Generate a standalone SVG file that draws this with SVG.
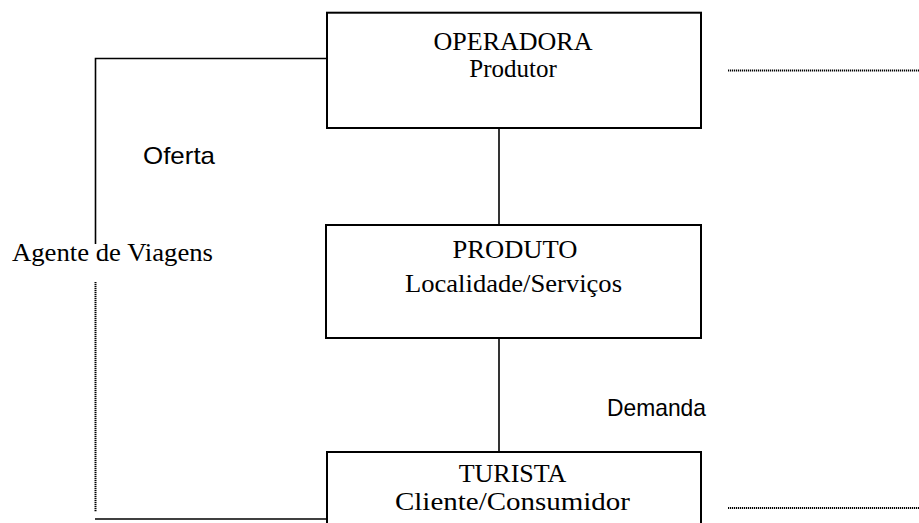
<svg xmlns="http://www.w3.org/2000/svg" width="919" height="523" viewBox="0 0 919 523">
<style>
.box{fill:#fff;stroke:#000;stroke-width:2}
.ln{fill:none;stroke:#000;stroke-width:1.6}
.dash{fill:none;stroke:#000;stroke-width:2;stroke-dasharray:1.2 0.8}
.t{font-family:"Liberation Serif","Times New Roman",serif;font-size:24.5px;fill:#000;text-anchor:middle}
.s{font-family:"Liberation Sans",Arial,sans-serif;font-size:24px;fill:#000}
</style>
<rect width="919" height="523" fill="#fff"/>
<g id="connectors">
<line class="ln" x1="499" y1="128" x2="499" y2="225"/>
<line class="ln" x1="499" y1="338" x2="499" y2="452"/>
<polyline class="ln" points="327,58.5 95.5,58.5 95.5,244"/>
<line class="dash" x1="95.5" y1="282" x2="95.5" y2="512"/>
<line class="ln" x1="95" y1="519" x2="327" y2="519"/>
<line class="dash" x1="728" y1="70.5" x2="919" y2="70.5"/>
<line class="dash" x1="728" y1="508" x2="919" y2="508"/>
</g>
<g id="operadora">
<rect class="box" x="327" y="12.7" width="374" height="115.3"/>
<text class="t" x="513" y="50" textLength="159" lengthAdjust="spacingAndGlyphs">OPERADORA</text>
<text class="t" x="513" y="77" style="font-size:25px">Produtor</text>
</g>
<g id="produto">
<rect class="box" x="326" y="225" width="375" height="113"/>
<text class="t" x="515" y="258" textLength="125" lengthAdjust="spacingAndGlyphs">PRODUTO</text>
<text class="t" x="513.5" y="292" textLength="217" lengthAdjust="spacingAndGlyphs">Localidade/Serviços</text>
</g>
<g id="turista">
<rect class="box" x="327" y="452" width="374" height="100"/>
<text class="t" x="512.5" y="482" style="font-size:26px">TURISTA</text>
<text class="t" x="512.5" y="510" style="font-size:26px" textLength="235" lengthAdjust="spacingAndGlyphs">Cliente/Consumidor</text>
</g>
<g id="labels">
<text class="s" x="143" y="164" textLength="72" lengthAdjust="spacingAndGlyphs">Oferta</text>
<text class="s" x="607" y="416" textLength="99" lengthAdjust="spacingAndGlyphs">Demanda</text>
<text class="t" x="112.5" y="261" textLength="201" lengthAdjust="spacingAndGlyphs">Agente de Viagens</text>
</g>
</svg>
